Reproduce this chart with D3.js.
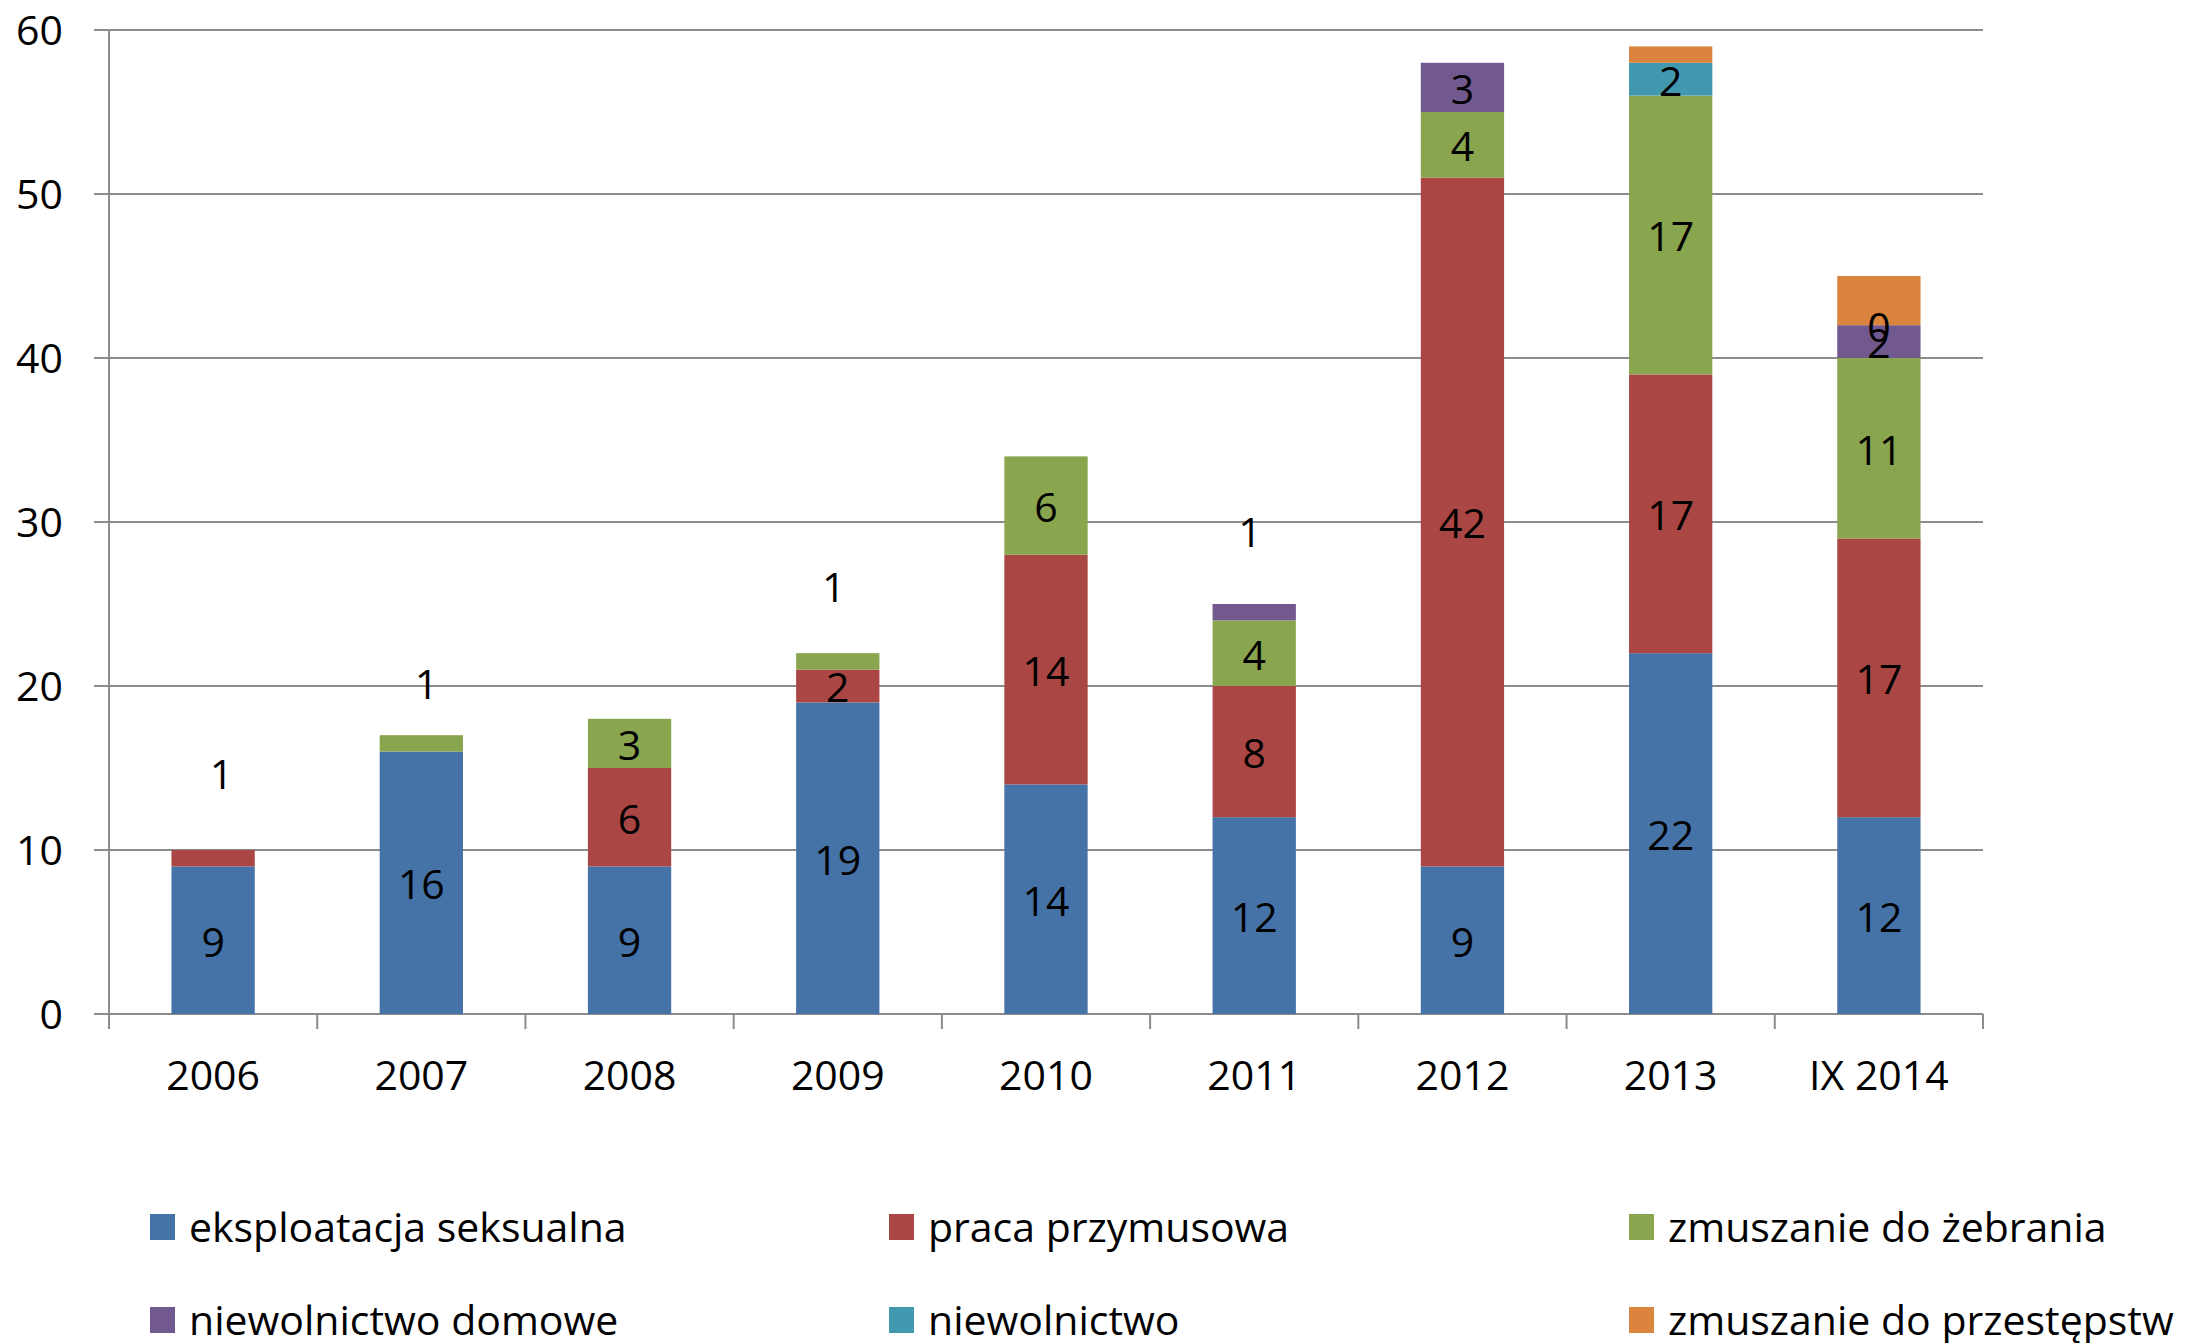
<!DOCTYPE html>
<html>
<head>
<meta charset="utf-8">
<script src="https://cdn.jsdelivr.net/npm/d3@7"></script>
<style>
  html, body { margin: 0; padding: 0; background: #ffffff; }
  svg { display: block; }
  text { font-family: "Open Sans", "Noto Sans", sans-serif; fill: #000; }
</style>
</head>
<body>
<svg id="chart" width="2193" height="1343"></svg>
<script>
// ---- data ----
const categories = ["2006", "2007", "2008", "2009", "2010", "2011", "2012", "2013", "IX 2014"];
const seriesNames = ["eksploatacja seksualna", "praca przymusowa", "zmuszanie do żebrania",
                     "niewolnictwo domowe", "niewolnictwo", "zmuszanie do przestępstw"];
const seriesColors = ["#4572A7", "#AA4643", "#89A54E", "#71588F", "#4198AF", "#DB843D"];
const eksploatacja = [9, 16, 9, 19, 14, 12, 9, 22, 12];
const praca        = [1, null, 6, 2, 14, 8, 42, 17, 17];
const zebranie     = [null, 1, 3, 1, 6, 4, 4, 17, 11];
const domowe       = [null, null, null, null, null, 1, 3, null, 2];
const niewolnictwo = [null, null, null, null, null, null, null, 2, 0];
const przestepstwa = [null, null, null, null, null, null, null, 1, 3];
const seriesValues = [eksploatacja, praca, zebranie, domowe, niewolnictwo, przestepstwa];
const seriesShowLabels = [true, true, true, true, true, false];
const yTicks = [0, 10, 20, 30, 40, 50, 60];
// labels of thin segments that were moved above the bars (value-axis position, small nudge in category-width fraction)
const movedLabels = [
  { category: "2006", series: 1, at: 14.7, nudge: 0.04 },
  { category: "2007", series: 2, at: 20.2, nudge: 0.025 },
  { category: "2009", series: 2, at: 26.1, nudge: -0.02 },
  { category: "2011", series: 3, at: 29.5, nudge: -0.02 }
];

// ---- layout ----
const svg = d3.select("#chart");
const plot = { left: 109, right: 1983, top: 30, bottom: 1014 };
const fontSize = 41;

const x = d3.scaleBand().domain(categories).range([plot.left, plot.right]).paddingInner(0.6).paddingOuter(0.3);
const band = d3.scaleBand().domain(categories).range([plot.left, plot.right]).padding(0);
const y = d3.scaleLinear().domain([0, 60]).range([plot.bottom, plot.top]);

// gridlines
const gridColor = "#8c8c8c";
svg.append("g").selectAll("line").data(yTicks).join("line")
  .attr("x1", plot.left - 15).attr("x2", plot.right)
  .attr("y1", d => y(d)).attr("y2", d => y(d))
  .attr("stroke", gridColor).attr("stroke-width", 2);

// y axis line
svg.append("line").attr("x1", plot.left).attr("x2", plot.left)
  .attr("y1", plot.top).attr("y2", plot.bottom + 15)
  .attr("stroke", gridColor).attr("stroke-width", 2);

// x tick marks at band boundaries
const boundaries = categories.map(c => band(c)).concat([plot.right]);
svg.append("g").selectAll("line").data(boundaries).join("line")
  .attr("x1", d => d).attr("x2", d => d)
  .attr("y1", plot.bottom).attr("y2", plot.bottom + 15)
  .attr("stroke", gridColor).attr("stroke-width", 2);

// y tick labels
svg.append("g").selectAll("text").data(yTicks).join("text")
  .attr("x", 63).attr("y", d => y(d)).attr("dy", "0.37em")
  .attr("text-anchor", "end").attr("font-size", fontSize)
  .text(d => d);

// stack
const rows = categories.map((c, i) => {
  const r = { category: c };
  seriesNames.forEach((s, k) => { r[s] = seriesValues[k][i] == null ? 0 : seriesValues[k][i]; });
  return r;
});
const stacked = d3.stack().keys(seriesNames)(rows);

const barsG = svg.append("g");
stacked.forEach((layer, k) => {
  barsG.append("g").attr("fill", seriesColors[k])
    .selectAll("rect").data(layer).join("rect")
    .attr("x", d => x(d.data.category))
    .attr("width", x.bandwidth())
    .attr("y", d => y(d[1]))
    .attr("height", d => y(d[0]) - y(d[1]));
});

// data labels
const labels = [];
stacked.forEach((layer, k) => {
  if (!seriesShowLabels[k]) return;
  layer.forEach((d, i) => {
    const v = seriesValues[k][i];
    if (v == null) return;
    const moved = movedLabels.find(m => m.category === d.data.category && m.series === k);
    labels.push({
      category: d.data.category, value: v,
      at: moved ? moved.at : (d[0] + d[1]) / 2,
      nudge: moved ? moved.nudge : 0
    });
  });
});
svg.append("g").selectAll("text").data(labels).join("text")
  .attr("x", d => x(d.category) + x.bandwidth() / 2 + d.nudge * band.bandwidth())
  .attr("y", d => y(d.at)).attr("dy", "0.4em")
  .attr("text-anchor", "middle").attr("font-size", fontSize)
  .text(d => d.value);

// x category labels
svg.append("g").selectAll("text").data(categories).join("text")
  .attr("x", d => band(d) + band.bandwidth() / 2)
  .attr("y", 1090).attr("text-anchor", "middle").attr("font-size", fontSize)
  .text(d => d);

// legend
const legendCols = [150, 889, 1629];
const legendRows = [1227, 1320];
const legend = svg.append("g").selectAll("g").data(seriesNames).join("g")
  .attr("transform", (d, i) => `translate(${legendCols[i % 3]},${legendRows[Math.floor(i / 3)]})`);
legend.append("rect").attr("x", 0).attr("y", -13).attr("width", 25).attr("height", 26)
  .attr("fill", (d, i) => seriesColors[i]);
legend.append("text").attr("x", 39).attr("y", 0).attr("dy", "0.36em")
  .attr("font-size", fontSize).text(d => d);
</script>
</body>
</html>
